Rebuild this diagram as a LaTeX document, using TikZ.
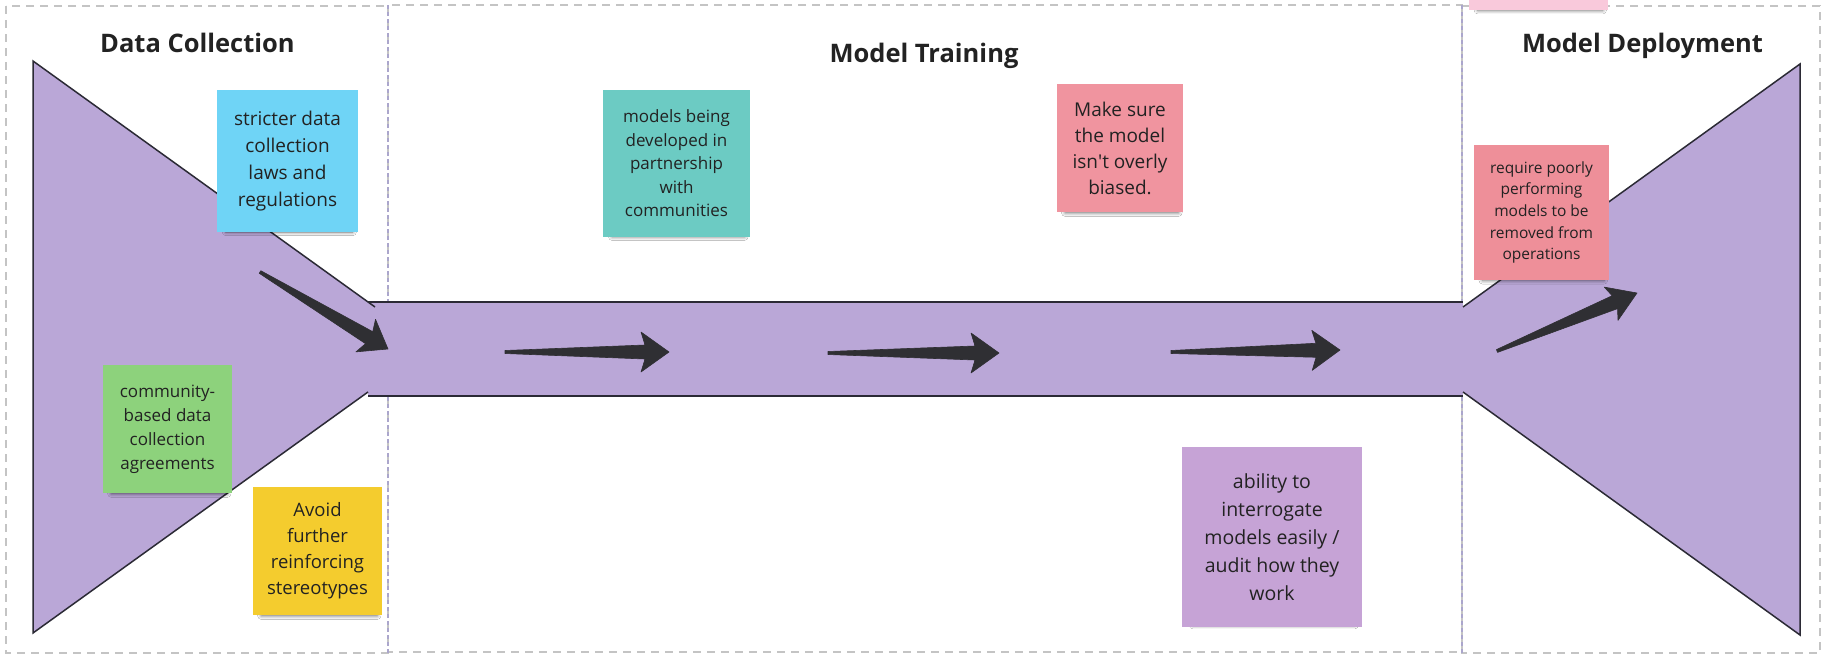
\documentclass[tikz,border=0pt]{standalone}
\usepackage{fontspec}
\setmainfont{Open Sans}
\usetikzlibrary{calc,shadows.blur}
\definecolor{funnelc}{HTML}{BAA7D7}
\definecolor{edgec}{HTML}{2B2A35}
\definecolor{arrowfill}{HTML}{2F2F33}
\definecolor{txt}{HTML}{222222}
\definecolor{framegray}{HTML}{C4C4C4}
\definecolor{divc}{HTML}{ABA6CC}
\definecolor{bluec}{HTML}{6FD4F6}
\definecolor{tealc}{HTML}{6CCBC3}
\definecolor{pinkc}{HTML}{F0949F}
\definecolor{redc}{HTML}{EE8F99}
\definecolor{greenc}{HTML}{8DD27C}
\definecolor{yellowc}{HTML}{F4CC2E}
\definecolor{purplec}{HTML}{C6A3D6}
\definecolor{lpinkc}{HTML}{F9C9DB}
\tikzset{
  sticky/.style={rectangle, inner sep=0pt, align=center, text=txt,
    blur shadow={shadow xshift=2pt, shadow yshift=-8pt, shadow blur radius=4pt, shadow opacity=60, shadow scale=0.9}},
  heading/.style={font=\fontsize{25.5}{30}\selectfont\bfseries, text=txt, anchor=base},
  frameline/.style={draw=framegray, line width=1.2pt, dash pattern=on 8pt off 6pt},
  divline/.style={draw=divc, line width=1.2pt, dash pattern=on 4pt off 3pt},
  outlinec/.style={draw=edgec, line width=1.5pt, line join=miter},
}
% tail, tip, head length, head half width, join length
\newcommand\taparrow[5]{%
  \coordinate (hb) at ($(#2)!#3!(#1)$);
  \coordinate (hj) at ($(#2)!#5!(#1)$);
  \filldraw[fill=arrowfill, draw=arrowfill, line width=0.6pt, line join=round]
    ($(#1)!1.5pt!90:(#2)$) -- ($(hj)!7pt!90:(#2)$) -- ($(hb)!#4!90:(#2)$) -- (#2)
    -- ($(hb)!#4!-90:(#2)$) -- ($(hj)!7pt!-90:(#2)$) -- ($(#1)!1.5pt!-90:(#2)$) -- cycle;
}
\begin{document}
\begin{tikzpicture}[x=1pt,y=-1pt]
\useasboundingbox (0,0) rectangle (1824,656);
\fill[white] (0,0) rectangle (1824,656);
% frames
\draw[frameline] (6,6) rectangle (388,653);
\draw[frameline] (388,5) rectangle (1462,652);
\draw[frameline] (1462,6) rectangle (1820,653);
\draw[divline] (388,5) -- (388,653);
\draw[divline] (1462,5) -- (1462,653);
% headings
\node[heading] (h1) at (197.5,52.5) {Data Collection};
\node[heading] (h2) at (924,62) {Model Training};
\node[heading] (h3) at (1642.5,52.5) {Model Deployment};
% funnel fills
\fill[funnelc] (33,61) -- (375,307) -- (368,392) -- (33,633) -- cycle;
\fill[funnelc] (368,302) rectangle (1463,396);
\fill[funnelc] (1800,64) -- (1800,635) -- (1463,392) -- (1463,307) -- cycle;
% funnel outlines
\draw[outlinec] (375,307) -- (33,61) -- (33,633) -- (368,392);
\draw[outlinec] (368,302) -- (1463,302);
\draw[outlinec] (368,396) -- (1463,396);
\draw[outlinec] (1463,307) -- (1800,64) -- (1800,635) -- (1463,392);
% arrows
\coordinate (a0t) at (260,272); \coordinate (a0h) at (388,349);
\coordinate (a1t) at (505,352); \coordinate (a1h) at (669,352);
\coordinate (a2t) at (828,353); \coordinate (a2h) at (999,353);
\coordinate (a3t) at (1171,352); \coordinate (a3h) at (1340,350);
\coordinate (a4t) at (1497,351); \coordinate (a4h) at (1637,293);
\taparrow{a0t}{a0h}{26pt}{19pt}{22pt}
\taparrow{a1t}{a1h}{28pt}{20pt}{24pt}
\taparrow{a2t}{a2h}{28pt}{20pt}{24pt}
\taparrow{a3t}{a3h}{28pt}{20pt}{24pt}
\taparrow{a4t}{a4h}{28pt}{18pt}{24pt}
% sticky notes
\node[sticky, fill=lpinkc, minimum width=139pt, minimum height=138pt] (s8) at (1538.5,-59) {};
\node[sticky, fill=bluec, minimum width=141pt, minimum height=142pt, font=\fontsize{19}{27}\selectfont] (s1) at (287.5,161) {stricter data\\collection\\laws and\\regulations};
\node[sticky, fill=tealc, minimum width=147pt, minimum height=147pt, font=\fontsize{17}{23.5}\selectfont] (s2) at (676.5,163.5) {models being\\developed in\\partnership\\with\\communities};
\node[sticky, fill=pinkc, minimum width=126pt, minimum height=128pt, font=\fontsize{19}{26}\selectfont] (s3) at (1120,148) {Make sure\\the model\\isn\textquotesingle t overly\\biased.};
\node[sticky, fill=redc, minimum width=135pt, minimum height=135pt, font=\fontsize{15.5}{21.7}\selectfont] (s4) at (1541.5,212.5) {require poorly\\performing\\models to be\\removed from\\operations};
\node[sticky, fill=greenc, minimum width=129pt, minimum height=128pt, font=\fontsize{17}{24}\selectfont] (s5) at (167.5,429) {community-\\based data\\collection\\agreements};
\node[sticky, fill=yellowc, minimum width=129pt, minimum height=128pt, font=\fontsize{18.5}{26}\selectfont] (s6) at (317.5,551) {Avoid\\further\\reinforcing\\stereotypes};
\node[sticky, fill=purplec, minimum width=180pt, minimum height=180pt, font=\fontsize{19.5}{28}\selectfont] (s7) at (1272,537) {ability to\\interrogate\\models easily /\\audit how they\\work};
\end{tikzpicture}
\end{document}
